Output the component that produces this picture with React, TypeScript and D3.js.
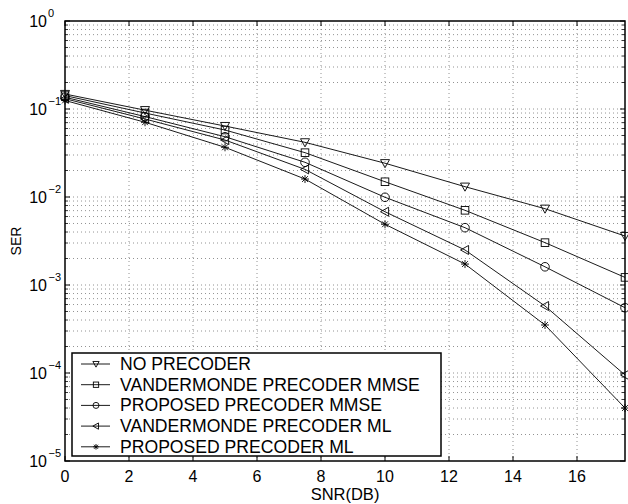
import { useMemo } from "react";
import * as d3 from "d3";

// SNR points (dB)
const snr = [0, 2.5, 5, 7.5, 10, 12.5, 15, 17.5];

// SER curves
const noPrecoder = [0.148, 0.097, 0.064, 0.0418, 0.0242, 0.0131, 0.00736, 0.0036];
const vanderMmse = [0.142, 0.09, 0.0577, 0.0319, 0.0149, 0.00706, 0.00303, 0.00122];
const proposedMmse = [0.136, 0.082, 0.0484, 0.0248, 0.00993, 0.00448, 0.00161, 0.000552];
const vanderMl = [0.131, 0.077, 0.0444, 0.0206, 0.0068, 0.0025, 0.000577, 0.000095];
const proposedMl = [0.125, 0.0707, 0.0367, 0.016, 0.0049, 0.00173, 0.000351, 0.00004];

const seriesNames = [
  "NO PRECODER",
  "VANDERMONDE PRECODER MMSE",
  "PROPOSED PRECODER MMSE",
  "VANDERMONDE PRECODER ML",
  "PROPOSED PRECODER ML",
];
const markerKinds = ["triDown", "square", "circle", "triLeft", "star"];

const xTicks = [0, 2, 4, 6, 8, 10, 12, 14, 16];
const yExponents = [0, -1, -2, -3, -4, -5];

const W = 628;
const H = 504;
const margin = { top: 21, right: 3, bottom: 43, left: 65 };
const FONT = "'Liberation Sans', Arial, Helvetica, sans-serif";

const Marker = ({ kind, x, y, k = 1 }: { kind: string; x: number; y: number; k?: number }) => {
  const s = 4.5 * k;
  const common = { fill: "none", stroke: "#000", strokeWidth: 0.9 };
  if (kind === "triDown")
    return <path d={`M${x - s},${y - s * 0.8}L${x + s},${y - s * 0.8}L${x},${y + s}Z`} {...common} />;
  if (kind === "square") {
    const h = 3.8 * k;
    return <rect x={x - h} y={y - h} width={2 * h} height={2 * h} {...common} />;
  }
  if (kind === "circle") return <circle cx={x} cy={y} r={4.3 * k} {...common} />;
  if (kind === "triLeft")
    return <path d={`M${x - s},${y}L${x + s * 0.8},${y - s}L${x + s * 0.8},${y + s}Z`} {...common} />;
  // star: plus and cross
  const a = 4 * k;
  const b = 2.9 * k;
  return (
    <path
      d={`M${x - a},${y}L${x + a},${y}M${x},${y - a}L${x},${y + a}M${x - b},${y - b}L${x + b},${y + b}M${x - b},${y + b}L${x + b},${y - b}`}
      {...common}
    />
  );
};

export default function App() {
  const iw = W - margin.left - margin.right;
  const ih = H - margin.top - margin.bottom;

  const x = useMemo(() => d3.scaleLinear().domain([0, 17.5]).range([0, iw]), [iw]);
  const y = useMemo(() => d3.scaleLog().domain([1e-5, 1]).range([ih, 0]), [ih]);

  const allSeries = [noPrecoder, vanderMmse, proposedMmse, vanderMl, proposedMl];
  const line = d3
    .line<number>()
    .x((_, i) => x(snr[i]))
    .y((d) => y(d));

  // minor log ticks (2..9 of each decade)
  const minorTicks: number[] = [];
  for (let e = -5; e < 0; e++) {
    for (let m = 2; m <= 9; m++) minorTicks.push(m * Math.pow(10, e));
  }

  const gridStyle = { stroke: "#777", strokeWidth: 0.8, strokeDasharray: "1 3" };

  const legend = { x: 72 - margin.left, y: 353 - margin.top, w: 369, h: 103 };

  return (
    <svg
      width={W}
      height={H}
      style={{ position: "absolute", left: 0, top: 0, background: "#fff" }}
      fontFamily={FONT}
    >
      <g transform={`translate(${margin.left},${margin.top})`}>
        {/* grid */}
        {xTicks.slice(1).map((t) => (
          <line key={"gx" + t} x1={x(t)} x2={x(t)} y1={0} y2={ih} {...gridStyle} />
        ))}
        {[...minorTicks, ...yExponents.slice(1, -1).map((e) => Math.pow(10, e))].map((t) => (
          <line key={"gy" + t} x1={0} x2={iw} y1={y(t)} y2={y(t)} {...gridStyle} />
        ))}

        {/* ticks */}
        {xTicks.map((t) => (
          <g key={"tx" + t}>
            <line x1={x(t)} x2={x(t)} y1={ih} y2={ih - 5} stroke="#000" />
            <line x1={x(t)} x2={x(t)} y1={0} y2={5} stroke="#000" />
            <text x={x(t)} y={ih + 21} textAnchor="middle" fontSize={16}>
              {t}
            </text>
          </g>
        ))}
        {minorTicks.map((t) => (
          <g key={"my" + t}>
            <line x1={0} x2={3} y1={y(t)} y2={y(t)} stroke="#000" strokeWidth={0.8} />
            <line x1={iw} x2={iw - 3} y1={y(t)} y2={y(t)} stroke="#000" strokeWidth={0.8} />
          </g>
        ))}
        {yExponents.map((e) => (
          <g key={"ty" + e}>
            <line x1={0} x2={5} y1={y(Math.pow(10, e))} y2={y(Math.pow(10, e))} stroke="#000" />
            <line x1={iw} x2={iw - 5} y1={y(Math.pow(10, e))} y2={y(Math.pow(10, e))} stroke="#000" />
            <text x={-18} y={y(Math.pow(10, e)) + 6} textAnchor="end" fontSize={16}>
              10
            </text>
            <text x={e === 0 ? -11 : -4} y={y(Math.pow(10, e)) - 4} textAnchor="end" fontSize={11}>
              {e === 0 ? "0" : "\u2212" + -e}
            </text>
          </g>
        ))}

        {/* series */}
        {allSeries.map((s, k) => (
          <g key={"s" + k}>
            <path d={line(s) ?? ""} fill="none" stroke="#000" strokeWidth={0.9} />
            {s.map((v, i) => (
              <Marker key={i} kind={markerKinds[k]} x={x(snr[i])} y={y(v)} />
            ))}
          </g>
        ))}

        {/* frame */}
        <rect x={0} y={0} width={iw} height={ih} fill="none" stroke="#000" strokeWidth={1.5} />

        {/* legend */}
        <rect x={legend.x} y={legend.y} width={legend.w} height={legend.h} fill="#fff" stroke="#000" strokeWidth={1.5} />
        {seriesNames.map((name, k) => {
          const ly = legend.y + 11 + k * 20.7;
          return (
            <g key={"l" + k}>
              <line x1={legend.x + 9} x2={legend.x + 38} y1={ly} y2={ly} stroke="#000" strokeWidth={0.9} />
              <Marker kind={markerKinds[k]} x={legend.x + 24} y={ly} k={0.7} />
              <text x={legend.x + 48} y={ly + 6} fontSize={17.6}>
                {name}
              </text>
            </g>
          );
        })}
      </g>

      {/* axis labels */}
      <text x={margin.left + iw / 2} y={500} textAnchor="middle" fontSize={16.5}>
        SNR(DB)
      </text>
      <text transform={`translate(21,${margin.top + ih / 2}) rotate(-90)`} textAnchor="middle" fontSize={14}>
        SER
      </text>
    </svg>
  );
}
